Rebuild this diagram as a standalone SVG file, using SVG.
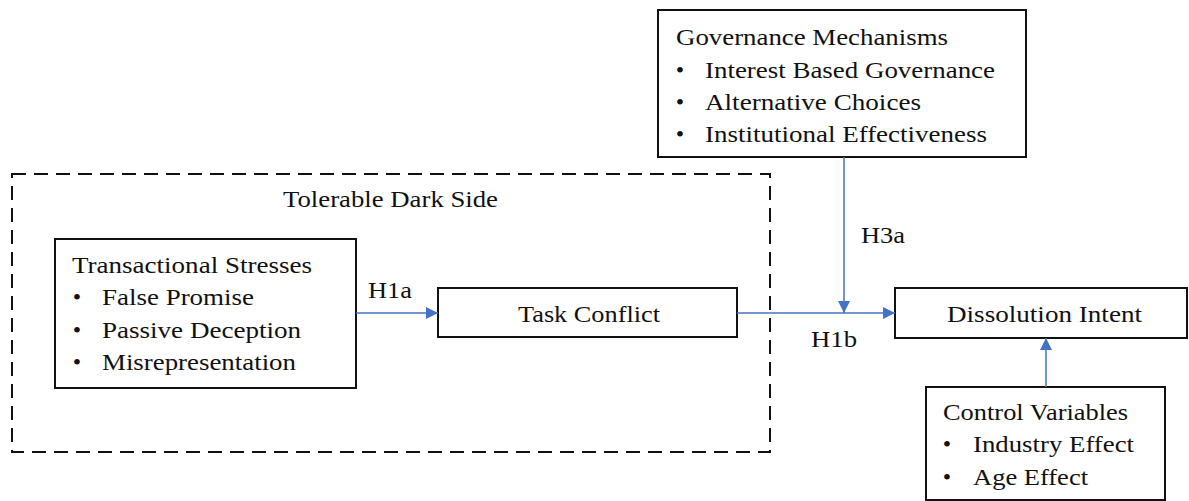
<svg xmlns="http://www.w3.org/2000/svg" width="1189" height="501" viewBox="0 0 1189 501">
<defs>
<marker id="ah" markerWidth="12" markerHeight="12" refX="12" refY="6" orient="auto" markerUnits="userSpaceOnUse">
<path d="M0,0 L12,6 L0,12 Z" fill="#4472C4"/>
</marker>
<style>
text{font-family:"Liberation Serif","Times New Roman",serif;font-size:24px;fill:#111}
.box{fill:#fff;stroke:#111;stroke-width:2}
.dash{fill:none;stroke:#111;stroke-width:2;stroke-dasharray:14 8}
.conn{stroke:#4472C4;stroke-width:1.5;fill:none}
.b{text-anchor:middle}
</style>
</defs>
<rect width="1189" height="501" fill="#fff"/>
<g id="tolerable-dark-side">
<rect class="dash" x="12" y="174" width="758" height="278"/>
<text x="283" y="207" textLength="215" lengthAdjust="spacingAndGlyphs">Tolerable  Dark Side</text>
</g>
<g id="governance">
<rect class="box" x="658" y="10" width="368" height="147"/>
<text x="676" y="45" textLength="272" lengthAdjust="spacingAndGlyphs">Governance Mechanisms</text>
<text class="b" x="680" y="78">•</text>
<text x="705" y="78" textLength="290" lengthAdjust="spacingAndGlyphs">Interest Based Governance</text>
<text class="b" x="680" y="110">•</text>
<text x="705" y="110" textLength="216" lengthAdjust="spacingAndGlyphs">Alternative Choices</text>
<text class="b" x="680" y="142">•</text>
<text x="705" y="142" textLength="282" lengthAdjust="spacingAndGlyphs">Institutional Effectiveness</text>
</g>
<g id="transactional">
<rect class="box" x="55" y="239" width="301" height="149"/>
<text x="72" y="273" textLength="240" lengthAdjust="spacingAndGlyphs">Transactional  Stresses</text>
<text class="b" x="77" y="305">•</text>
<text x="102" y="305" textLength="152" lengthAdjust="spacingAndGlyphs">False Promise</text>
<text class="b" x="77" y="338">•</text>
<text x="102" y="338" textLength="199" lengthAdjust="spacingAndGlyphs">Passive Deception</text>
<text class="b" x="77" y="370">•</text>
<text x="102" y="370" textLength="194" lengthAdjust="spacingAndGlyphs">Misrepresentation</text>
</g>
<g id="task-conflict">
<rect class="box" x="438" y="288" width="299" height="49"/>
<text x="518" y="322" textLength="142" lengthAdjust="spacingAndGlyphs">Task Conflict</text>
</g>
<g id="dissolution">
<rect class="box" x="895" y="288" width="292" height="50"/>
<text x="947" y="322" textLength="195" lengthAdjust="spacingAndGlyphs">Dissolution Intent</text>
</g>
<g id="control">
<rect class="box" x="926" y="387" width="239" height="113"/>
<text x="943" y="420" textLength="185" lengthAdjust="spacingAndGlyphs">Control Variables</text>
<text class="b" x="947" y="452">•</text>
<text x="973" y="452" textLength="161" lengthAdjust="spacingAndGlyphs">Industry Effect</text>
<text class="b" x="947" y="485">•</text>
<text x="973" y="485" textLength="115" lengthAdjust="spacingAndGlyphs">Age Effect</text>
</g>
<g id="connectors">
<line class="conn" x1="356" y1="313" x2="438" y2="313" marker-end="url(#ah)"/>
<line class="conn" x1="737" y1="313" x2="895" y2="313" marker-end="url(#ah)"/>
<line class="conn" x1="844" y1="157" x2="844" y2="313" marker-end="url(#ah)"/>
<line class="conn" x1="1046" y1="387" x2="1046" y2="338" marker-end="url(#ah)"/>
<text x="368" y="298" textLength="44" lengthAdjust="spacingAndGlyphs">H1a</text>
<text x="811" y="347" textLength="46" lengthAdjust="spacingAndGlyphs">H1b</text>
<text x="861" y="243" textLength="44" lengthAdjust="spacingAndGlyphs">H3a</text>
</g>
</svg>
